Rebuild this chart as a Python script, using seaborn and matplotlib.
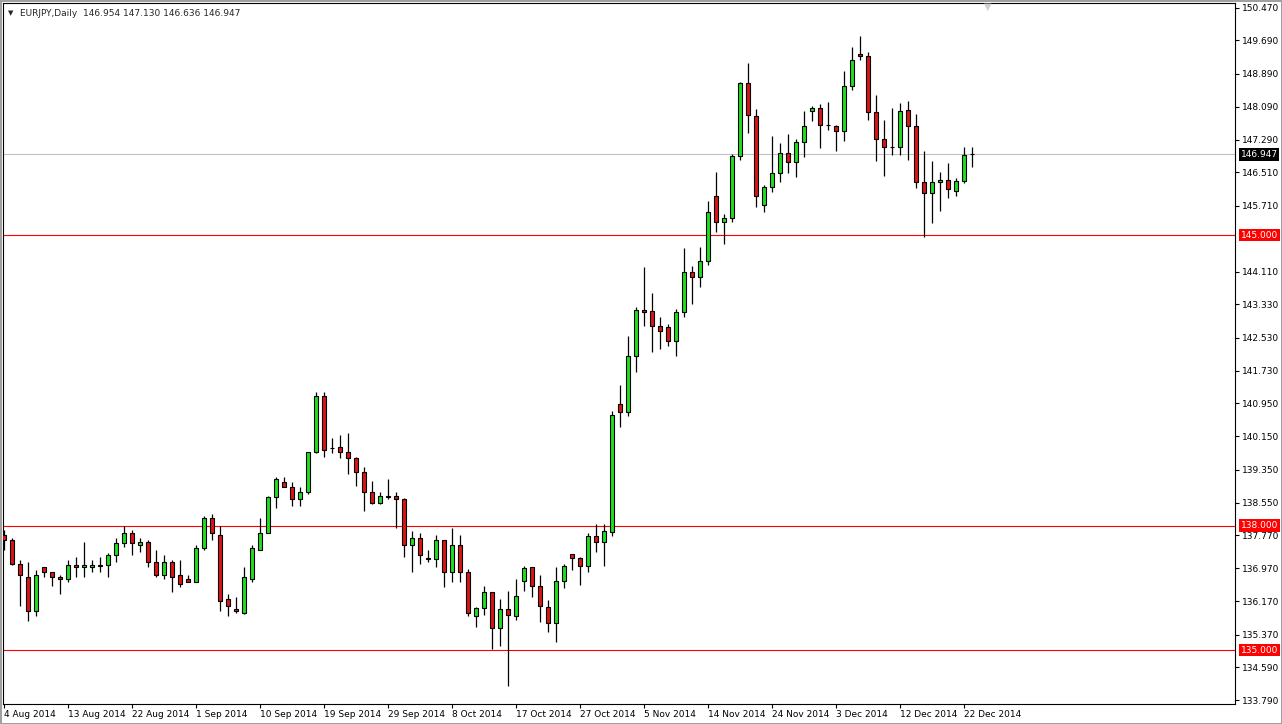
import matplotlib
matplotlib.use('Agg')
import matplotlib.pyplot as plt
import matplotlib.transforms as mtransforms
import numpy as np
import pandas as pd
import seaborn as sns

simbolo = 'EURJPY,Daily'
ultima_vela = '146.954 147.130 146.636 146.947'

apertura = [137.78, 137.66, 137.08, 136.77, 135.93, 136.99, 136.87, 136.77, 136.72, 137.06,
            136.99, 136.99, 137.03, 137.04, 137.28, 137.59, 137.83, 137.54, 137.61, 137.11,
            136.80, 137.11, 136.80, 136.72, 136.65, 137.47, 138.17, 137.78, 136.22, 136.00,
            135.90, 136.70, 137.42, 137.83, 138.68, 139.04, 138.92, 138.65, 138.82, 139.76,
            141.11, 139.88, 139.90, 139.78, 139.62, 139.30, 138.82, 138.55, 138.70, 138.72,
            138.63, 137.54, 137.69, 137.20, 137.20, 137.64, 136.89, 137.52, 136.87, 135.82,
            136.01, 136.40, 135.53, 135.99, 135.82, 136.66, 137.00, 136.54, 136.04, 135.65,
            136.66, 137.31, 137.22, 137.02, 137.75, 137.60, 137.84, 140.93, 140.73, 142.08,
            143.19, 143.17, 142.81, 142.78, 142.45, 143.14, 144.11, 143.99, 144.37, 145.94,
            145.31, 145.41, 146.90, 148.66, 147.87, 145.72, 146.16, 146.49, 146.98, 146.76,
            147.24, 147.99, 148.06, 147.65, 147.63, 147.51, 148.59, 149.36, 149.31, 147.96,
            147.31, 147.12, 147.12, 148.01, 147.63, 146.28, 146.01, 146.28, 146.33, 146.06,
            146.30, 146.954]
maximo = [137.90, 137.69, 137.16, 137.11, 136.92, 136.99, 136.87, 136.80, 137.16, 137.23,
          137.61, 137.18, 137.25, 137.33, 137.71, 137.98, 137.90, 137.69, 137.64, 137.40,
          137.28, 137.18, 137.18, 136.80, 137.54, 138.24, 138.27, 138.00, 136.34, 136.29,
          136.99, 137.54, 138.17, 138.72, 139.18, 139.16, 139.06, 138.94, 139.78, 141.21,
          141.21, 140.12, 140.19, 140.22, 139.66, 139.42, 139.08, 138.80, 139.13, 138.82,
          138.67, 137.86, 137.83, 137.40, 137.76, 137.66, 137.93, 137.76, 136.96, 136.04,
          136.54, 136.40, 136.23, 136.42, 136.71, 137.02, 137.00, 136.81, 136.20, 137.00,
          137.07, 137.31, 137.24, 137.82, 138.04, 138.04, 140.76, 141.39, 142.57, 143.27,
          144.23, 143.60, 143.02, 142.86, 143.22, 144.69, 144.25, 144.71, 145.82, 146.52,
          145.51, 146.95, 148.69, 149.14, 148.04, 146.20, 147.39, 147.22, 147.43, 147.31,
          147.99, 148.11, 148.16, 148.20, 147.65, 148.95, 149.53, 149.80, 149.41, 148.37,
          147.77, 148.06, 148.18, 148.23, 147.92, 147.02, 146.78, 146.52, 146.73, 146.37,
          147.12, 147.130]
minimo = [137.42, 137.04, 136.07, 135.69, 135.81, 136.75, 136.55, 136.36, 136.63, 136.75,
          136.75, 136.89, 136.87, 136.77, 137.11, 137.49, 137.28, 137.37, 136.99, 136.77,
          136.72, 136.39, 136.53, 136.65, 136.63, 137.42, 137.64, 135.93, 135.81, 135.90,
          135.88, 136.65, 137.40, 137.81, 138.43, 138.92, 138.46, 138.48, 138.77, 139.74,
          139.66, 139.74, 139.62, 139.25, 138.96, 138.34, 138.51, 138.53, 138.65, 137.93,
          137.25, 136.87, 137.08, 137.13, 137.01, 136.53, 136.65, 136.63, 135.83, 135.55,
          135.84, 135.02, 135.10, 134.13, 135.72, 136.42, 136.28, 135.67, 135.43, 135.19,
          136.49, 136.93, 136.57, 136.88, 137.36, 137.02, 137.75, 140.37, 140.64, 141.70,
          142.81, 142.18, 142.25, 142.33, 142.08, 143.02, 143.34, 143.75, 144.28, 145.07,
          144.78, 145.31, 146.81, 147.46, 145.67, 145.55, 146.04, 146.28, 146.49, 146.40,
          146.88, 147.75, 147.10, 147.53, 147.02, 147.27, 148.49, 149.22, 147.77, 146.78,
          146.42, 146.93, 146.93, 146.81, 146.13, 144.95, 145.29, 145.58, 145.89, 145.94,
          146.25, 146.636]
cierre = [137.66, 137.08, 136.80, 135.93, 136.80, 136.87, 136.77, 136.72, 137.06, 136.99,
          137.06, 137.04, 137.04, 137.28, 137.59, 137.83, 137.59, 137.61, 137.11, 136.80,
          137.11, 136.77, 136.60, 136.65, 137.47, 138.17, 137.81, 136.19, 136.07, 135.93,
          136.75, 137.45, 137.83, 138.68, 139.11, 138.92, 138.65, 138.82, 139.76, 141.11,
          139.81, 139.87, 139.78, 139.62, 139.30, 138.82, 138.55, 138.70, 138.69, 138.63,
          137.54, 137.69, 137.30, 137.21, 137.64, 136.89, 137.52, 136.87, 135.90, 136.01,
          136.40, 135.53, 135.99, 135.84, 136.30, 136.98, 136.54, 136.06, 135.65, 136.66,
          137.02, 137.22, 137.02, 137.75, 137.60, 137.87, 140.66, 140.73, 142.08, 143.19,
          143.14, 142.81, 142.69, 142.45, 143.14, 144.11, 143.99, 144.37, 145.55, 145.31,
          145.41, 146.90, 148.66, 147.89, 145.94, 146.16, 146.49, 146.98, 146.76, 147.24,
          147.63, 148.06, 147.65, 147.64, 147.51, 148.59, 149.22, 149.31, 147.96, 147.31,
          147.12, 147.11, 147.99, 147.63, 146.28, 146.01, 146.28, 146.33, 146.11, 146.30,
          146.93, 146.947]

# lineas horizontales de soporte / resistencia y precio actual
niveles = [135.0, 138.0, 145.0]
precio_actual = 146.947

# etiquetas de la escala de precios (a la derecha)
ticks_precio = [133.79, 134.59, 135.37, 136.17, 136.97, 137.77, 138.55, 139.35, 140.15,
                140.95, 141.73, 142.53, 143.33, 144.11, 145.71, 146.51, 147.29, 148.09,
                148.89, 149.69, 150.47]

# velas diarias, el broker tiene vela de domingo pero no de sabado
fechas = pd.date_range('2014-08-04', '2014-12-23')
fechas = fechas[fechas.dayofweek != 5]

velas = pd.DataFrame({'fecha': fechas, 'open': apertura, 'high': maximo,
                      'low': minimo, 'close': cierre})
velas['x'] = np.arange(len(velas))
sube = velas['close'] >= velas['open']

verde = '#1fe01f'
rojo = '#dc1414'

sns.set_theme(style='white')
plt.rcParams['font.family'] = ['DejaVu Sans']

fig = plt.figure(figsize=(12.82, 7.24), dpi=100)
ax = fig.add_axes([3 / 1282, 20 / 724, 1232 / 1282, 701 / 724])

# niveles
for n in niveles:
    ax.axhline(n, color='#ff0000', linewidth=0.8, zorder=1)
ax.axhline(precio_actual, color='#c0c0c0', linewidth=0.8, zorder=1)

# mechas y cuerpos
ax.vlines(velas['x'], velas['low'], velas['high'], color='black', linewidth=0.9, zorder=2)
ax.bar(velas['x'], (velas['close'] - velas['open']).abs(),
       bottom=velas[['open', 'close']].min(axis=1), width=0.6,
       color=np.where(sube, verde, rojo), edgecolor='black', linewidth=0.8, zorder=3)

ax.set_xlim(-0.125, 153.875)
ax.set_ylim(133.70, 150.59)

# eje x con fechas cada 8 velas
pos = velas['x'][::8]
ax.set_xticks(pos)
ax.set_xticklabels([f"{d.day} {d:%b %Y}" for d in velas['fecha'][::8]], ha='left')

ax.yaxis.tick_right()
ax.set_yticks(ticks_precio)
ax.set_yticklabels([f'{t:.3f}' for t in ticks_precio])

ax.tick_params(axis='both', which='major', direction='out', length=3, width=0.8,
               color='black', labelsize=6.5, labelcolor='black', pad=2)
ax.tick_params(axis='x', bottom=True, pad=1)
ax.tick_params(axis='y', right=True, left=False)

for lado in ax.spines.values():
    lado.set_color('black')
    lado.set_linewidth(0.8)

# cajas con el precio de los niveles
trans = mtransforms.blended_transform_factory(ax.transAxes, ax.transData)
for n in niveles:
    ax.text(1.0045, n, f'{n:.3f}', transform=trans, ha='left', va='center', color='white',
            fontsize=6.5, zorder=5,
            bbox=dict(boxstyle='square,pad=0.2', fc='#ff0000', ec='none'))
ax.text(1.0045, precio_actual, f'{precio_actual:.3f}', transform=trans, ha='left',
        va='center', color='white', fontsize=6.5, zorder=5,
        bbox=dict(boxstyle='square,pad=0.2', fc='black', ec='none'))

# cabecera
fig.text(8 / 1282, 1 - 13 / 724, '\u25bc', fontsize=5, va='center', ha='left')
fig.text(20 / 1282, 1 - 13 / 724, f'{simbolo}  {ultima_vela}', fontsize=6.5,
         va='center', ha='left')
fig.text(988 / 1282, 1 - 7 / 724, '\u25bc', fontsize=7, va='center', ha='center',
         color='#d0d0d0')

fig.patch.set_edgecolor('#a0a0a0')
fig.patch.set_linewidth(1)
fig.savefig('out.png', dpi=100, facecolor='white', edgecolor=fig.get_edgecolor())
